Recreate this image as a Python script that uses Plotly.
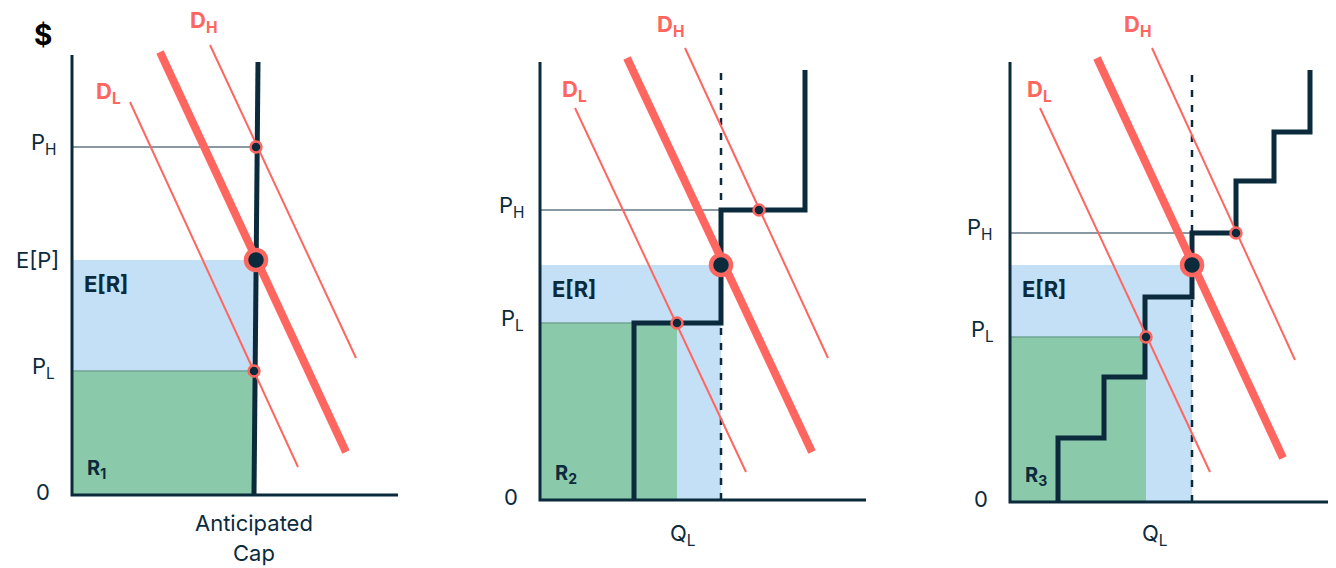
import plotly.graph_objects as go

# Colours
NAVY = "#0b2a3c"
RED = "#ff6660"
BLUE = "#c4e0f6"
GREEN = "#8bc9ab"
GRAY = "#8899a4"
FONT = "Inter"

# ---- Data (quantity / price units, origin at each panel's axes corner) ----
# Panel 1 : a single anticipated cap
p1_supply_q = [182, 186]
p1_supply_p = [0, 433]
p1_dmid_q, p1_dmid_p = [88, 274], [443, 43]
p1_dlow_q, p1_dlow_p = [58, 226], [393, 28]
p1_dhigh_q, p1_dhigh_p = [138, 284], [450, 137]
p1_price_levels = [348, 235, 124]          # P_H, E[P], P_L
p1_points_q = [184, 184, 182]               # where the curves meet supply
p1_green_q = 182
p1_blue_q = 182

# Panel 2 : two step supply
p2_supply_q = [94, 94, 181, 181, 265, 265]
p2_supply_p = [0, 177, 177, 290, 290, 430]
p2_dmid_q, p2_dmid_p = [87, 272], [442, 48]
p2_dlow_q, p2_dlow_p = [35, 206], [392, 28]
p2_dhigh_q, p2_dhigh_p = [145, 288], [452, 142]
p2_price_levels = [290, 235, 177]
p2_points_q = [219, 181, 137]
p2_green_q = 137
p2_blue_q = 181
p2_ql = 181

# Panel 3 : many step supply
p3_supply_q = [48, 48, 94, 94, 135, 135, 182, 182, 226, 226, 264, 264, 300, 300]
p3_supply_p = [0, 64, 64, 125, 125, 205, 205, 269, 269, 321, 321, 370, 370, 432]
p3_dmid_q, p3_dmid_p = [87, 273], [444, 44]
p3_dlow_q, p3_dlow_p = [30, 200], [394, 30]
p3_dhigh_q, p3_dhigh_p = [142, 285], [454, 142]
p3_price_levels = [269, 237, 165]
p3_points_q = [226, 182, 136]
p3_green_q = 136
p3_blue_q = 182
p3_ql = 182

# Axis extents (q max, p max) and view windows
# (page body has an 8px margin, so the figure is 1328x560)
FIG_W, FIG_H = 1328, 560
panel_axis = [(326, 440), (326, 438), (326, 440)]
panel_xrange = [[-64, 373], [-95, 365], [-105, 326]]
panel_yrange = [[-73, 487], [-68, 492], [-66, 494]]
panel_domain = [[0, 437 / FIG_W], [437 / FIG_W, 897 / FIG_W], [897 / FIG_W, 1.0]]

fig = go.Figure()
shapes = []
annotations = []


def line(ax, q, p, color, width, dash="solid"):
    fig.add_trace(go.Scatter(
        x=q, y=p, mode="lines", xaxis="x" + ax, yaxis="y" + ax,
        line=dict(color=color, width=width, dash=dash),
        hoverinfo="skip", showlegend=False))


def label(ax, q, p, text, size=22, color=NAVY, bold=False, xanchor="center"):
    if bold:
        text = "<b>" + text + "</b>"
    annotations.append(dict(
        x=q, y=p, xref="x" + ax, yref="y" + ax, text=text, showarrow=False,
        xanchor=xanchor, yanchor="middle",
        font=dict(family=FONT, size=size, color=color)))


def draw_panel(i, supply_q, supply_p, dmid, dlow, dhigh, levels, points_q,
               green_q, blue_q, ql, sub, labels):
    ax = "" if i == 0 else str(i + 1)
    qmax, pmax = panel_axis[i]
    p_high, p_exp, p_low = levels

    # revenue areas
    shapes.append(dict(type="rect", xref="x" + ax, yref="y" + ax, layer="below",
                       x0=0, x1=blue_q, y0=0, y1=p_exp,
                       fillcolor=BLUE, line=dict(width=0)))
    shapes.append(dict(type="rect", xref="x" + ax, yref="y" + ax, layer="below",
                       x0=0, x1=green_q, y0=0, y1=p_low,
                       fillcolor=GREEN, line=dict(width=0)))

    # P_H / P_L guide lines
    line(ax, [0, points_q[1]], [p_high, p_high], GRAY, 2)
    line(ax, [0, green_q], [p_low, p_low], "#6fa593", 1.5)

    if ql is not None:
        line(ax, [ql, ql], [0, 430], NAVY, 2.5, dash="7px,8px")

    # axes
    line(ax, [0, 0, qmax], [pmax, 0, 0], NAVY, 3)

    # supply
    line(ax, supply_q, supply_p, NAVY, 5)

    # demand curves
    line(ax, dlow[0], dlow[1], RED, 2)
    line(ax, dhigh[0], dhigh[1], RED, 2)
    line(ax, dmid[0], dmid[1], RED, 8)

    # equilibrium points
    fig.add_trace(go.Scatter(
        x=[points_q[0], points_q[2]], y=[p_high, p_low], mode="markers",
        xaxis="x" + ax, yaxis="y" + ax, hoverinfo="skip", showlegend=False,
        marker=dict(size=11, color=NAVY, line=dict(color=RED, width=2.5))))
    fig.add_trace(go.Scatter(
        x=[points_q[1]], y=[p_exp], mode="markers",
        xaxis="x" + ax, yaxis="y" + ax, hoverinfo="skip", showlegend=False,
        marker=dict(size=20, color=NAVY, line=dict(color=RED, width=4.5))))

    # texts
    for (q, p, t, kw) in labels:
        label(ax, q, p, t, **kw)
    label(ax, 10, p_exp - 24, "E[R]", size=22, bold=True, xanchor="left")
    label(ax, 13, 26, "R<sub>" + sub + "</sub>", size=20, bold=True, xanchor="left")
    label(ax, -29, 3, "0")


draw_panel(0, p1_supply_q, p1_supply_p, (p1_dmid_q, p1_dmid_p),
           (p1_dlow_q, p1_dlow_p), (p1_dhigh_q, p1_dhigh_p),
           p1_price_levels, p1_points_q, p1_green_q, p1_blue_q, None, "1",
           [(-29, 460, "$", dict(size=28, color="#000000", bold=True)),
            (131, 473, "D<sub>H</sub>", dict(color=RED, bold=True)),
            (36, 402, "D<sub>L</sub>", dict(color=RED, bold=True)),
            (-28, 351, "P<sub>H</sub>", {}),
            (-35, 235, "E[P]", {}),
            (-29, 127, "P<sub>L</sub>", {}),
            (182, -28, "Anticipated", {}),
            (182, -58, "Cap", {})])

draw_panel(1, p2_supply_q, p2_supply_p, (p2_dmid_q, p2_dmid_p),
           (p2_dlow_q, p2_dlow_p), (p2_dhigh_q, p2_dhigh_p),
           p2_price_levels, p2_points_q, p2_green_q, p2_blue_q, p2_ql, "2",
           [(130, 474, "D<sub>H</sub>", dict(color=RED, bold=True)),
            (34, 409, "D<sub>L</sub>", dict(color=RED, bold=True)),
            (-28, 293, "P<sub>H</sub>", {}),
            (-28, 180, "P<sub>L</sub>", {}),
            (143, -35, "Q<sub>L</sub>", {})])

draw_panel(2, p3_supply_q, p3_supply_p, (p3_dmid_q, p3_dmid_p),
           (p3_dlow_q, p3_dlow_p), (p3_dhigh_q, p3_dhigh_p),
           p3_price_levels, p3_points_q, p3_green_q, p3_blue_q, p3_ql, "3",
           [(127, 476, "D<sub>H</sub>", dict(color=RED, bold=True)),
            (29, 411, "D<sub>L</sub>", dict(color=RED, bold=True)),
            (-30, 273, "P<sub>H</sub>", {}),
            (-28, 171, "P<sub>L</sub>", {}),
            (145, -33, "Q<sub>L</sub>", {})])

layout = dict(
    width=FIG_W, height=FIG_H,
    margin=dict(l=0, r=0, t=0, b=0),
    plot_bgcolor="white", paper_bgcolor="white",
    shapes=shapes, annotations=annotations,
    font=dict(family=FONT, color=NAVY),
)
for i in range(3):
    ax = "" if i == 0 else str(i + 1)
    layout["xaxis" + ax] = dict(domain=panel_domain[i], range=panel_xrange[i],
                                visible=False, fixedrange=True,
                                anchor="y" + ax)
    layout["yaxis" + ax] = dict(domain=[0, 1], range=panel_yrange[i],
                                visible=False, fixedrange=True,
                                anchor="x" + ax)
fig.update_layout(**layout)

fig.write_html("out.html")
